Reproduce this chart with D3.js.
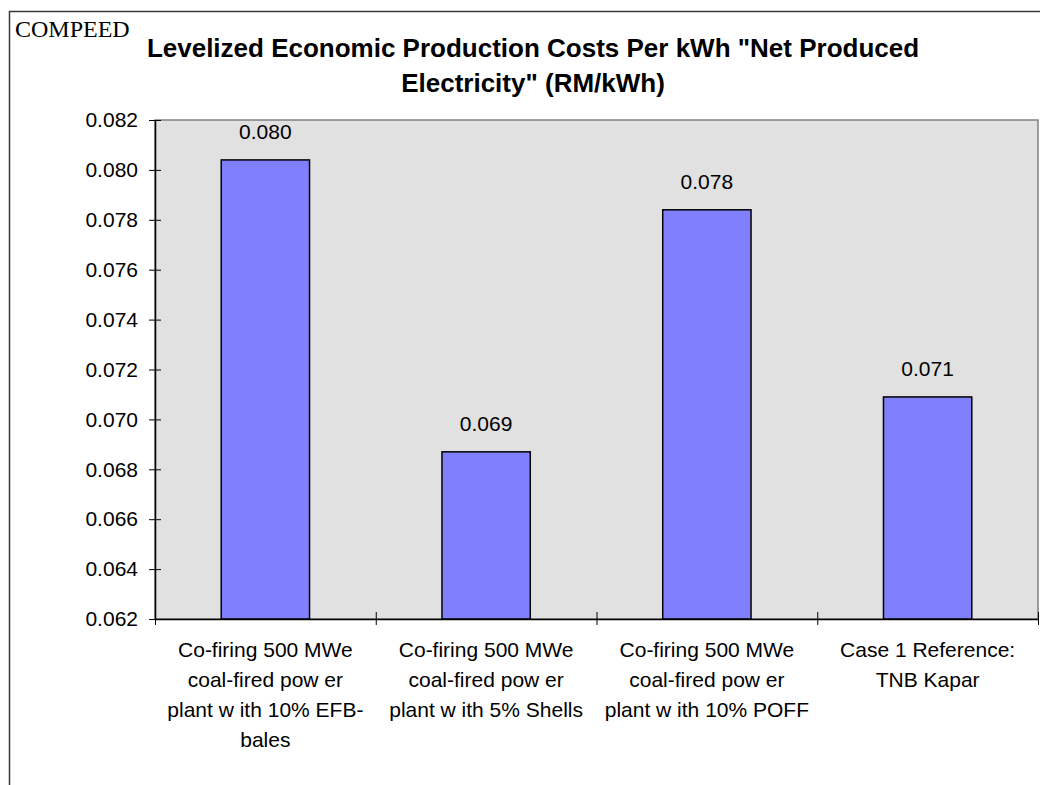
<!DOCTYPE html>
<html>
<head>
<meta charset="utf-8">
<script src="https://cdn.jsdelivr.net/npm/d3@7"></script>
<style>
  html, body { margin: 0; padding: 0; background: #ffffff; }
  svg { display: block; }
  text { font-family: "Liberation Sans", Arial, sans-serif; fill: #000; }
</style>
</head>
<body>
<svg id="chart" width="1040" height="785"></svg>
<script>
const categories = [
  ["Co-firing 500 MWe", "coal-fired pow er", "plant w ith 10% EFB-", "bales"],
  ["Co-firing 500 MWe", "coal-fired pow er", "plant w ith 5% Shells"],
  ["Co-firing 500 MWe", "coal-fired pow er", "plant w ith 10% POFF"],
  ["Case 1 Reference:", "TNB Kapar"]
];
const categoryKeys = ["EFB", "Shells", "POFF", "Kapar"];
const values = [0.0804, 0.0687, 0.0784, 0.0709];
const valueLabels = ["0.080", "0.069", "0.078", "0.071"];
const yTicks = [0.062, 0.064, 0.066, 0.068, 0.070, 0.072, 0.074, 0.076, 0.078, 0.080, 0.082];
const titleLines = ["Levelized Economic Production Costs Per kWh \"Net Produced", "Electricity\" (RM/kWh)"];
const cornerLabel = "COMPEED";

const svg = d3.select("#chart");
const plot = { left: 155, right: 1038, top: 120, bottom: 619 };

// outer frame (left & top visible; rest runs off the page)
svg.append("path")
  .attr("d", `M9.5,785 L9.5,11.5 L1045,11.5`)
  .attr("fill", "none").attr("stroke", "#3a3a3a").attr("stroke-width", 1.5);

svg.append("text")
  .attr("x", 15).attr("y", 37)
  .style("font-family", "'Liberation Serif', 'Times New Roman', serif")
  .style("font-size", "24px")
  .text(cornerLabel);

const title = svg.append("text")
  .attr("text-anchor", "middle")
  .style("font-size", "26px").style("font-weight", "bold");
titleLines.forEach((t, i) => {
  title.append("tspan").attr("x", 533).attr("y", 57 + i * 35).text(t);
});

const y = d3.scaleLinear().domain([0.062, 0.082]).range([plot.bottom, plot.top]);
const x = d3.scaleBand().domain(categoryKeys).range([plot.left, plot.right])
  .paddingInner(0.6).paddingOuter(0.3);
const xEdge = d3.scaleLinear().domain([0, categoryKeys.length]).range([plot.left, plot.right]);

// plot background
svg.append("rect")
  .attr("x", plot.left).attr("y", plot.top)
  .attr("width", plot.right - plot.left).attr("height", plot.bottom - plot.top)
  .attr("fill", "#e1e1e1").attr("stroke", "#808080").attr("stroke-width", 1.5);

// bars
svg.selectAll("rect.bar").data(values).join("rect")
  .attr("class", "bar")
  .attr("x", (d, i) => x(categoryKeys[i]))
  .attr("width", x.bandwidth())
  .attr("y", d => y(d))
  .attr("height", d => y(0.062) - y(d))
  .attr("fill", "#8080ff").attr("stroke", "#000").attr("stroke-width", 1.5);

// value labels
svg.selectAll("text.vl").data(values).join("text")
  .attr("class", "vl")
  .attr("x", (d, i) => x(categoryKeys[i]) + x.bandwidth() / 2)
  .attr("y", d => y(d) - 21)
  .attr("text-anchor", "middle")
  .style("font-size", "21px")
  .text((d, i) => valueLabels[i]);

// y axis
const yAxis = svg.append("g").attr("transform", `translate(${plot.left},0)`)
  .call(d3.axisLeft(y).tickValues(yTicks).tickFormat(d3.format(".3f")).tickSizeOuter(0));
yAxis.select(".domain").attr("stroke", "#000").attr("stroke-width", 1.5);
yAxis.selectAll(".tick line").attr("x1", -6).attr("x2", 6).attr("stroke", "#000");
yAxis.selectAll(".tick text").attr("x", -17)
  .style("font-family", "'Liberation Sans', Arial, sans-serif").style("font-size", "21px").attr("fill", "#000");

// x axis
const xAxis = svg.append("g").attr("transform", `translate(0,${plot.bottom})`)
  .call(d3.axisBottom(xEdge).tickValues(d3.range(categoryKeys.length + 1)).tickFormat("").tickSizeOuter(0));
xAxis.select(".domain").attr("stroke", "#000").attr("stroke-width", 1.5);
xAxis.selectAll(".tick line").attr("y1", -7).attr("y2", 6).attr("stroke", "#000");

// category labels
categories.forEach((lines, i) => {
  const t = svg.append("text").attr("text-anchor", "middle").style("font-size", "21px");
  lines.forEach((ln, j) => {
    t.append("tspan").attr("x", x(categoryKeys[i]) + x.bandwidth() / 2)
      .attr("y", 657 + j * 30).text(ln);
  });
});
</script>
</body>
</html>
